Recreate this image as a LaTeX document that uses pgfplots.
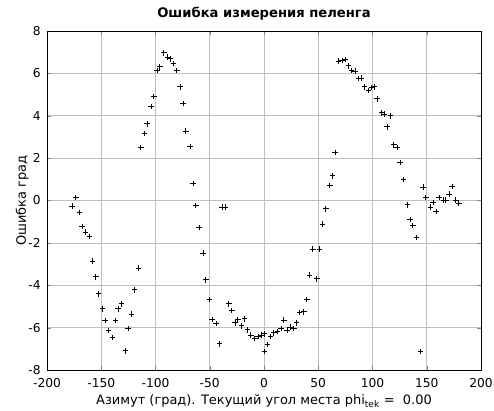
\documentclass[border=0pt]{standalone}
\usepackage{fontspec}
\setmainfont{DejaVu Sans}
\usepackage{pgfplots}
\pgfplotsset{compat=1.18}
\begin{document}
\fontsize{12.5}{15}\selectfont
\begin{tikzpicture}
\begin{axis}[
    width=434bp, height=339bp,
    scale only axis,
    xmin=-200, xmax=200, ymin=-8, ymax=8,
    xtick={-200,-150,...,200},
    ytick={-8,-6,...,8},
    tick pos=both,
    tick align=inside,
    major tick length=4bp,
    grid=major,
    major grid style={gray!50, line width=0.7pt},
    axis line style={line width=0.9pt},
    /pgf/number format/assume math mode=true,
    ticklabel style={font=\fontsize{12.3}{14}\selectfont},
    xticklabel style={anchor=base, yshift=-17.5bp},
    yticklabel style={xshift=-2bp},
    title={\bfseries Ошибка измерения пеленга},
    title style={at={(axis description cs:0.5,1.0221)}, anchor=base, font=\fontsize{13.2}{15}\selectfont},
    xlabel={Азимут (град). Текущий угол места phi\textsubscript{tek} =\ \ 0.00},
    xlabel style={at={(axis description cs:0.5,-0.1032)}, anchor=base, font=\fontsize{13}{15}\selectfont},
    ylabel={Ошибка град},
    ylabel style={at={(axis description cs:-0.0484,0.5)}, anchor=base, font=\fontsize{13}{15}\selectfont},
    clip=false,
]
\pgfplotstableread{
x y
-176.7 -0.26
-173.3 0.15
-170.2 -0.56
-167.5 -1.22
-164.7 -1.50
-161.0 -1.69
-158.2 -2.86
-155.1 -3.61
-152.7 -4.40
-149.0 -5.11
-146.3 -5.67
-143.5 -6.14
-139.5 -6.46
-136.7 -5.67
-134.3 -5.11
-131.2 -4.88
-127.5 -7.09
-125.3 -6.05
-122.3 -5.36
-119.2 -4.22
-115.8 -3.19
-113.4 2.51
-110.3 3.17
-107.8 3.62
-104.1 4.43
-101.4 4.90
-98.6 6.13
-95.9 6.31
-92.2 6.97
-88.8 6.76
-86.6 6.69
-83.6 6.46
-80.2 6.13
-77.4 5.36
-74.4 4.57
-71.9 3.27
-68.2 2.54
-65.4 0.81
-62.7 -0.24
-59.9 -1.27
-56.2 -2.49
-53.5 -3.74
-50.4 -4.68
-47.9 -5.62
-44.2 -5.81
-41.2 -6.76
-38.7 -0.32
-35.7 -0.32
-32.3 -4.88
-29.5 -5.20
-26.7 -5.78
-24.0 -5.62
-20.6 -5.91
-17.8 -5.58
-15.1 -6.11
-12.0 -6.36
-8.3 -6.52
-5.4 -6.42
-2.2 -6.36
0.6 -6.30
0.6 -7.13
3.4 -6.80
6.1 -6.41
9.2 -6.24
12.6 -6.19
15.7 -6.05
18.2 -5.64
21.2 -6.14
24.2 -5.98
27.4 -6.05
30.1 -5.77
32.9 -5.29
36.6 -5.26
39.6 -4.68
42.1 -3.52
44.9 -2.30
48.6 -3.70
51.0 -2.30
54.1 -1.12
56.9 -0.39
60.7 0.71
63.3 1.16
65.7 2.27
68.8 6.58
71.9 6.61
74.9 6.66
78.0 6.35
80.8 6.13
84.1 6.11
87.5 5.75
89.7 5.78
92.8 5.37
96.5 5.20
99.5 5.34
101.7 5.36
104.4 4.80
108.5 4.14
110.9 4.07
113.4 3.48
116.4 4.00
119.8 2.63
122.6 2.51
125.6 1.80
128.4 1.00
132.1 -0.20
134.6 -0.89
137.3 -1.17
140.4 -1.74
144.1 -7.13
146.8 0.63
149.3 0.15
153.3 -0.32
155.8 -0.10
158.6 -0.51
161.3 0.15
165.3 0.02
167.7 0.02
170.6 0.30
173.3 0.67
176.7 0.02
179.7 -0.13
}\errdata
\addplot[only marks, mark=+, mark size=2.8pt, line width=1pt, black] table {\errdata};
\end{axis}
\pgfresetboundingbox
\path ([xshift=-47bp,yshift=-40bp]current axis.south west) rectangle ([xshift=13bp,yshift=31bp]current axis.north east);
\end{tikzpicture}
\end{document}
